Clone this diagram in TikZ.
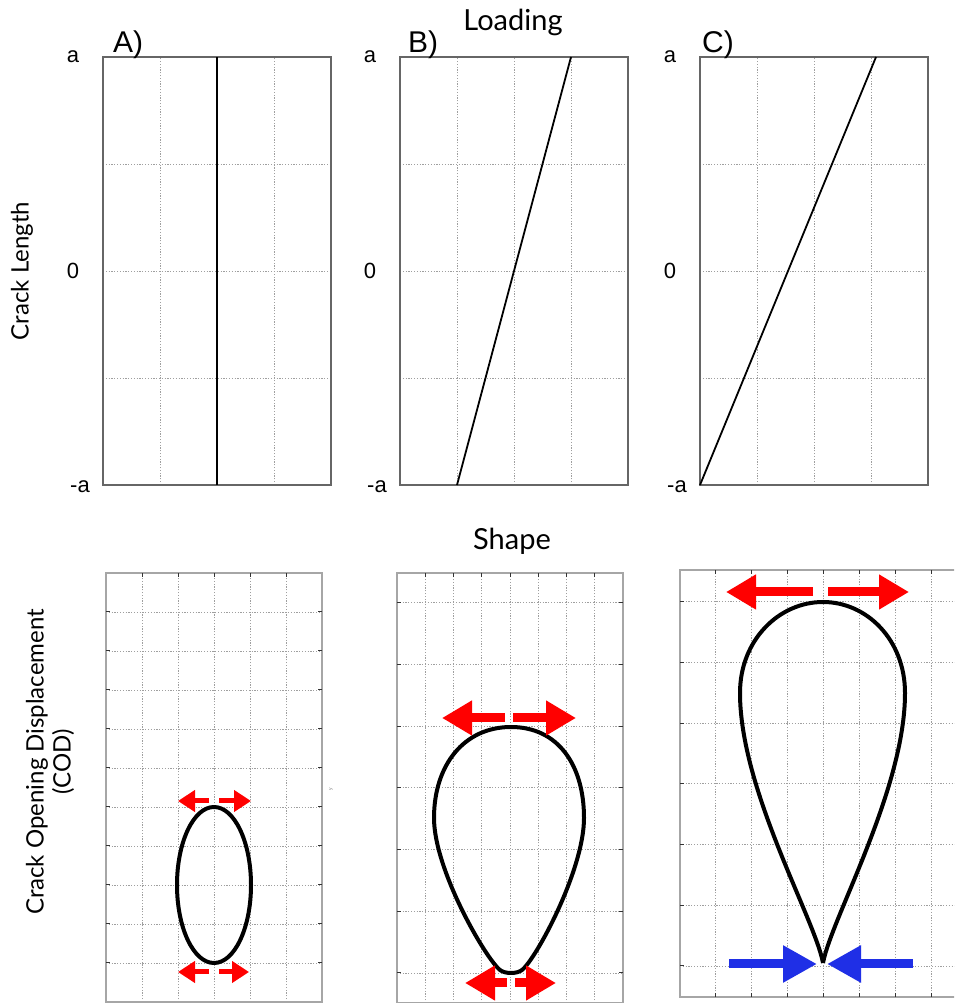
\documentclass[tikz,border=0pt]{standalone}
\usepackage{fontspec}
\setmainfont{Liberation Sans}
\newfontfamily\gillfont{Lato}
\usetikzlibrary{arrows.meta, positioning}
\definecolor{pullred}{HTML}{FF0000}
\definecolor{pushblue}{HTML}{1F2FE6}
\tikzset{
	gridline/.style={gray!75, line width=0.9pt, dash pattern=on 1.1pt off 1.7pt}
}
\tikzset{
	panelframe/.style={gray!80!black, line width=1.4pt},
	shapeframe/.style={gray!70, line width=1.4pt},
	tickmark/.style={black!80, line width=1pt}
}
\tikzset{
	loadline/.style={black, line width=1.8pt},
	codcurve/.style={black, line width=4pt, line join=round}
}
\tikzset{
	pullarrow/.style={pullred, line width=9pt, -{Triangle[length=30pt,width=33pt]}},
	smallpull/.style={pullred, line width=5pt, -{Triangle[length=17pt,width=21pt]}},
	pusharrow/.style={pushblue, line width=9pt, -{Triangle[length=34pt,width=35pt]}}
}
\tikzset{
	ticklabel/.style={font=\fontsize{22}{24}\selectfont},
	panellabel/.style={font=\fontsize{30}{32}\selectfont},
	headtext/.style={font=\gillfont\fontsize{29}{31}\selectfont},
	axistext/.style={font=\gillfont\fontsize{24}{27}\selectfont, rotate=90, align=center}
}

\begin{document}
\begin{tikzpicture}[x=1pt, y=1pt]
\clip (0,0) rectangle (954,1003);
\fill[white] (0,0) rectangle (954,1003);

% loading panels
\begin{scope}[shift={(103,518)}]
	\draw[gridline, xstep=57pt, ystep=107pt] (0,0) grid (228,428);
	\draw[panelframe] (0,0) rectangle (228,428);
	\draw[loadline] (114,0) -- (114,428);
\end{scope}
\begin{scope}[shift={(400,518)}]
	\draw[gridline, xstep=57pt, ystep=107pt] (0,0) grid (228,428);
	\draw[panelframe] (0,0) rectangle (228,428);
	\draw[loadline] (57,0) -- (171,428);
\end{scope}
\begin{scope}[shift={(700,518)}]
	\draw[gridline, xstep=57pt, ystep=107pt] (0,0) grid (228,428);
	\draw[panelframe] (0,0) rectangle (228,428);
	\draw[loadline] (0,0) -- (176,428);
\end{scope}

\node[headtext] (loading) at (513,981) {Loading};
\node[panellabel] (labA) at (128,958) {A)};
\node[panellabel] (labB) at (423,958) {B)};
\node[panellabel] (labC) at (718,958) {C)};

\node[ticklabel] (aA) at (73,946) {a};
\node[ticklabel] (zA) at (73,732) {0};
\node[ticklabel] (maA) at (80,516) {-a};
\node[ticklabel] (aB) at (370,946) {a};
\node[ticklabel] (zB) at (370,732) {0};
\node[ticklabel] (maB) at (377,516) {-a};
\node[ticklabel] (aC) at (670,946) {a};
\node[ticklabel] (zC) at (670,732) {0};
\node[ticklabel] (maC) at (677,516) {-a};

\node[axistext] (cracklen) at (22,732) {Crack Length};
\node[headtext] (shape) at (512,462) {Shape};
\node[axistext] (codtext) at (50,241) {Crack Opening Displacement\\(COD)};

% shape panels
\begin{scope}[shift={(106,1)}]
	\draw[gridline, xstep=36pt, ystep=39pt] (0,0) grid (216,429);
	\draw[shapeframe] (0,0) rectangle (216,429);
	\foreach \k in {1,...,10}
		\draw[tickmark] (0,\k*39) -- ++(4,0) (216,\k*39) -- ++(-4,0);
	\foreach \k in {1,...,5}
		\draw[tickmark] (\k*36,429) -- ++(0,-4);
\end{scope}
\draw[codcurve] (214,118) ellipse [x radius=37, y radius=78];
\coordinate (aTop) at (214,202);
\coordinate (aBot) at (214,31);
\draw[smallpull] ([xshift=-5pt]aTop) -- ([xshift=-36pt]aTop);
\draw[smallpull] ([xshift=5pt]aTop) -- ([xshift=37pt]aTop);
\draw[smallpull] ([xshift=-5pt]aBot) -- ([xshift=-36pt]aBot);
\draw[smallpull] ([xshift=5pt]aBot) -- ([xshift=35pt]aBot);
\node[font=\fontsize{5}{6}\selectfont, rotate=90, gray] (ylab) at (331,214) {y};

\begin{scope}[shift={(397,30)}]
	\draw[gridline, xstep=28.25pt, ystep=61.7pt] (0,-30) grid (226,400);
	\draw[shapeframe] (0,-30) rectangle (226,400);
	\foreach \k in {0,...,6}
		\draw[tickmark] (0,\k*61.7) -- ++(4,0) (226,\k*61.7) -- ++(-4,0);
	\foreach \k in {1,...,7}
		\draw[tickmark] (\k*28.25,400) -- ++(0,-4);
\end{scope}
\draw[codcurve] (511,276) .. controls (464,276) and (434,238) .. (434,185)
	.. controls (434,133) and (486,44) .. (500,33)
	.. controls (505,29) and (517,29) .. (522,33)
	.. controls (536,44) and (584,133) .. (584,185)
	.. controls (584,238) and (558,276) .. (511,276) -- cycle;
\coordinate (bTop) at (509,285);
\coordinate (bBot) at (511,20);
\draw[pullarrow] ([xshift=-4pt]bTop) -- ([xshift=-67pt]bTop);
\draw[pullarrow] ([xshift=4pt]bTop) -- ([xshift=67pt]bTop);
\draw[pullarrow] ([xshift=-4pt]bBot) -- ([xshift=-46pt]bBot);
\draw[pullarrow] ([xshift=4pt]bBot) -- ([xshift=45pt]bBot);

\begin{scope}[shift={(680,37)}]
	\draw[gridline, xstep=35.9pt, ystep=60.7pt] (0,-31) grid (290,396);
	\draw[shapeframe] (0,-31) rectangle (287,396);
	\foreach \k in {0,...,6}
		\draw[tickmark] (0,\k*60.7) -- ++(4,0);
	\foreach \k in {1,...,7}
		\draw[tickmark] (\k*35.9,396) -- ++(0,-4) (\k*35.9,-31) -- ++(0,4);
\end{scope}
\draw[codcurve] (823,40) .. controls (815,84) and (740,213) .. (740,310)
	.. controls (740,363) and (779,401) .. (823,401)
	.. controls (867,401) and (905,363) .. (905,310)
	.. controls (905,213) and (831,84) .. (823,40);
\coordinate (cTop) at (820,411);
\coordinate (cTip) at (822,39);
\draw[pullarrow] ([xshift=-7pt]cTop) -- ([xshift=-94pt]cTop);
\draw[pullarrow] ([xshift=8pt]cTop) -- ([xshift=89pt]cTop);
\draw[pusharrow] ([xshift=-93pt]cTip) -- ([xshift=-5pt]cTip);
\draw[pusharrow] ([xshift=91pt]cTip) -- ([xshift=5pt]cTip);

\end{tikzpicture}
\end{document}
